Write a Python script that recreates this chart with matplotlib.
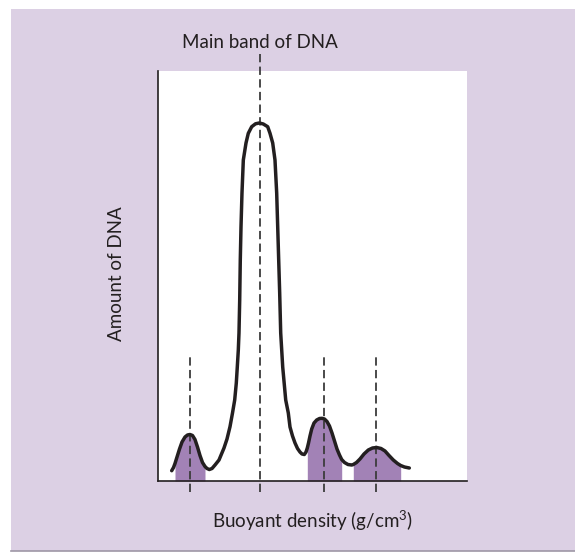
import numpy as np
import matplotlib
matplotlib.use("Agg")
import matplotlib.pyplot as plt
from matplotlib.patches import Rectangle
from matplotlib.lines import Line2D

plt.rcParams["mathtext.fontset"] = "custom"
plt.rcParams["mathtext.rm"] = "Lato"
plt.rcParams["mathtext.it"] = "Lato"
plt.rcParams["mathtext.bf"] = "Lato"

# curve (x: buoyant density, y: amount of DNA, both on a 0-100 scale)
density = [4.43, 5.02, 5.50, 6.15, 6.96, 7.77, 8.74, 9.55, 10.36, 11.17, 11.97,
           12.78, 13.59, 14.40, 15.21, 15.86, 16.60, 17.48, 18.45, 19.74, 21.36,
           22.33, 23.30, 24.11, 24.82, 25.34, 25.66, 25.99, 26.21, 26.44, 26.63,
           26.86, 27.18, 27.61, 28.48, 29.22, 30.32, 31.55, 32.78, 34.08, 35.50,
           36.25, 37.12, 37.86, 38.41, 38.74, 39.06, 39.38, 39.71, 40.36, 41.33,
           42.17, 42.72, 43.53, 44.34, 45.15, 45.95, 46.60, 47.35, 47.90, 48.32,
           48.71, 49.19, 49.74, 50.49, 51.36, 52.27, 53.07, 53.88, 54.69, 55.50,
           56.31, 57.12, 57.93, 58.74, 59.45, 60.36, 61.49, 62.69, 63.20, 64.24,
           65.37, 66.67, 68.06, 69.42, 70.78, 72.17, 73.46, 74.76, 76.15, 77.51,
           78.54, 79.77, 81.33]
amount = [2.51, 3.29, 4.27, 5.85, 7.80, 9.51, 10.73, 11.22, 11.34, 11.10, 10.12,
          8.29, 6.22, 4.51, 3.54, 3.05, 2.80, 3.05, 3.90, 5.12, 8.05,
          10.24, 13.24, 16.59, 19.76, 23.90, 27.80, 31.95, 36.10, 44.15, 53.90,
          61.95, 70.24, 78.29, 82.44, 84.80, 86.41, 87.12, 87.32, 87.07, 86.41,
          84.80, 82.44, 78.29, 70.24, 61.95, 53.90, 45.85, 36.10, 27.80, 19.76,
          16.59, 13.17, 10.98, 9.27, 7.93, 7.07, 6.59, 6.46, 7.07, 8.05,
          9.27, 10.98, 12.68, 14.15, 14.88, 15.24, 15.29, 15.12, 14.51, 13.41,
          11.71, 9.76, 7.80, 6.34, 5.24, 4.51, 4.02, 3.90, 4.02, 4.51,
          5.37, 6.59, 7.56, 8.05, 8.17, 7.93, 7.32, 6.22, 5.12, 4.27,
          3.78, 3.41, 3.17]

# shaded satellite bands (start, end)
bands = [(5.50, 15.21), (48.32, 59.45), (63.20, 78.54)]

# dashed marker lines: position and top end
marker_x = [10.36, 33.01, 53.62, 70.55]
marker_top = [30.7, 104.1, 30.7, 30.7]

panel_color = "#DCD0E4"
fill_color = "#A282B6"
ink = "#231F20"

W, H = 575, 552
fig = plt.figure(figsize=(W / 100, H / 100), dpi=100)
fig.patch.set_facecolor("white")

# purple panel behind everything
fig.patches.append(Rectangle((11 / W, 1 / H), 1 - 11 / W, 542 / H, transform=fig.transFigure,
                             facecolor=panel_color, edgecolor="none", zorder=-2))
fig.lines.append(Line2D([11 / W, 1], [1.2 / H, 1.2 / H], transform=fig.transFigure,
                        color="#9E97A6", lw=1.2))

ax = fig.add_axes([158 / W, 71 / H, 309 / W, 410 / H])
ax.set_facecolor("white")
ax.set_xlim(0, 100)
ax.set_ylim(0, 100)
ax.set_xticks([])
ax.set_yticks([])
for s in ["top", "right"]:
    ax.spines[s].set_visible(False)
for s in ["left", "bottom"]:
    ax.spines[s].set_color(ink)
    ax.spines[s].set_linewidth(1.2)

x = np.array(density)
y = np.array(amount)
for a, b in bands:
    m = (x >= a) & (x <= b)
    ax.fill_between(x[m], 0, y[m], color=fill_color, lw=0, zorder=1)

for mx, top in zip(marker_x, marker_top):
    ax.plot([mx, mx], [-2.7, top], color="#3C3C3C", lw=1.3, dashes=(4.6, 2.4),
            clip_on=False, zorder=2)

ax.plot(x, y, color=ink, lw=2.5, solid_joinstyle="round", solid_capstyle="round", zorder=3)

fnt = ["Lato", "DejaVu Sans"]
ax.text(marker_x[1], 105.7, "Main band of DNA", ha="center", va="baseline",
        fontsize=13.5, color=ink, family=fnt)
ax.text(-13.5, 50.5, "Amount of DNA", ha="center", va="center", rotation=90,
        fontsize=13.5, color=ink, family=fnt)
ax.text(50, -11.5, r"Buoyant density (g/cm$^3$)", ha="center", va="baseline",
        fontsize=13.5, color=ink, family=fnt)

fig.savefig("out.png", dpi=100)
